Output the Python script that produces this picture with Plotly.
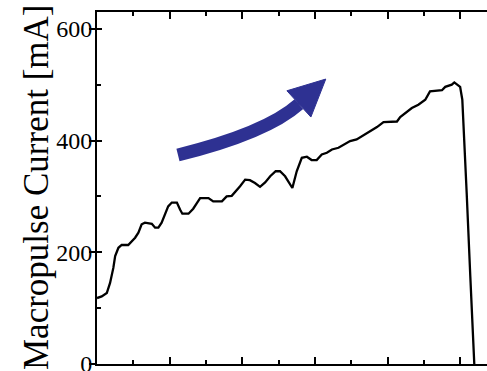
import plotly.graph_objects as go

# Data (x in arbitrary time units, y in mA)
time_units = [0.00, 0.13, 0.27, 0.36, 0.45, 0.50, 0.59, 0.68, 0.86, 0.96, 1.05, 1.14,
              1.23, 1.32, 1.51, 1.60, 1.69, 1.78, 1.87, 1.96, 2.06, 2.20, 2.29, 2.35,
              2.52, 2.65, 2.75, 2.84, 3.07, 3.20, 3.44, 3.57, 3.71, 3.80, 3.94, 4.08,
              4.21, 4.35, 4.49, 4.63, 4.77, 4.92, 5.04, 5.18, 5.29, 5.38, 5.50, 5.64,
              5.78, 5.91, 6.05, 6.19, 6.33, 6.47, 6.65, 6.83, 6.97, 7.15, 7.34, 7.52,
              7.71, 7.89, 8.26, 8.35, 8.48, 8.67, 8.85, 9.04, 9.17, 9.50, 9.59, 9.77,
              9.84, 9.91, 10.00, 10.06, 10.09, 10.12, 10.18, 10.28, 10.37, 10.39]
current_mA = [118, 121, 127, 145, 172, 193, 208, 213, 213, 220, 226, 235,
              250, 253, 251, 244, 244, 253, 267, 282, 289, 289, 276, 269,
              269, 278, 288, 297, 297, 291, 291, 300, 301, 307, 318, 330,
              329, 324, 317, 325, 336, 345, 345, 336, 324, 315, 345, 369,
              371, 365, 365, 375, 378, 384, 387, 393, 399, 402, 409, 416,
              424, 433, 434, 442, 449, 458, 464, 473, 488, 490, 496, 500,
              504, 500, 496, 473, 425, 408, 307, 157, 8, 0]

y_tick_vals = [0, 200, 400, 600]
y_tick_text = ["0", "200", "400", "600"]
y_title = "Macropulse Current [mA]"

# Decorative arrow (data coordinates)
arrow_tail = (2.23, 374)
arrow_ctrl = (4.66, 413)
arrow_end = (5.56, 465)
arrow_tip = (6.30, 510)
arrow_barb1 = (5.23, 489)
arrow_barb2 = (5.89, 442)
arrow_color = "#2E3192"

fig = go.Figure()
fig.add_trace(go.Scatter(x=time_units, y=current_mA, mode="lines",
                         line=dict(color="black", width=2.3),
                         showlegend=False, hoverinfo="skip"))
# invisible helper trace bound to the inner-tick y axis
fig.add_trace(go.Scatter(x=[None], y=[None], yaxis="y2", mode="lines",
                         showlegend=False, hoverinfo="skip"))

body = (f"M {arrow_tail[0]},{arrow_tail[1]} Q {arrow_ctrl[0]},{arrow_ctrl[1]} "
        f"{arrow_end[0]},{arrow_end[1]}")
head = (f"M {arrow_barb1[0]},{arrow_barb1[1]} L {arrow_tip[0]},{arrow_tip[1]} "
        f"L {arrow_barb2[0]},{arrow_barb2[1]} Z")
fig.add_shape(type="path", path=body, xref="x", yref="y",
              line=dict(color=arrow_color, width=13))
fig.add_shape(type="path", path=head, xref="x", yref="y",
              line=dict(color=arrow_color, width=1), fillcolor=arrow_color)

font_family = "Liberation Serif, Times New Roman, serif"

fig.add_annotation(text=y_title, textangle=-90, xref="paper", yref="paper",
                   x=0, y=0.5, xanchor="center", yanchor="middle",
                   xshift=-61, showarrow=False,
                   font=dict(family=font_family, size=35, color="black"))

fig.update_layout(
    width=487, height=371,
    margin=dict(l=97, r=0, t=12, b=7, autoexpand=False),
    paper_bgcolor="white", plot_bgcolor="white",
    font=dict(family=font_family, color="black"),
    xaxis=dict(range=[0, 10.74], showgrid=False, zeroline=False, automargin=False,
               showline=True, linecolor="black", linewidth=2, mirror="ticks",
               ticks="inside", tickcolor="black", ticklen=7, tickwidth=2,
               dtick=2, tick0=0, showticklabels=False,
               minor=dict(dtick=1, ticks="inside", ticklen=4, tickwidth=1.5,
                          tickcolor="black", showgrid=False)),
    yaxis=dict(range=[0, 630], showgrid=False, zeroline=False, automargin=False,
               showline=True, linecolor="black", linewidth=2, mirror=False,
               ticks="outside", tickcolor="black", ticklen=6, tickwidth=2,
               tickvals=y_tick_vals, ticktext=y_tick_text,
               tickfont=dict(family=font_family, size=24, color="black"),
               ticklabelstandoff=-8, ticklabeloverflow="allow"),
    yaxis2=dict(range=[0, 630], overlaying="y", side="left", showgrid=False,
                zeroline=False, showline=False, showticklabels=False, automargin=False,
                ticks="inside", tickcolor="black", ticklen=5, tickwidth=2,
                dtick=200, tick0=0,
                minor=dict(dtick=100, ticks="inside", ticklen=4, tickwidth=1.5,
                           tickcolor="black", showgrid=False)),
)

fig.write_html("out.html")
